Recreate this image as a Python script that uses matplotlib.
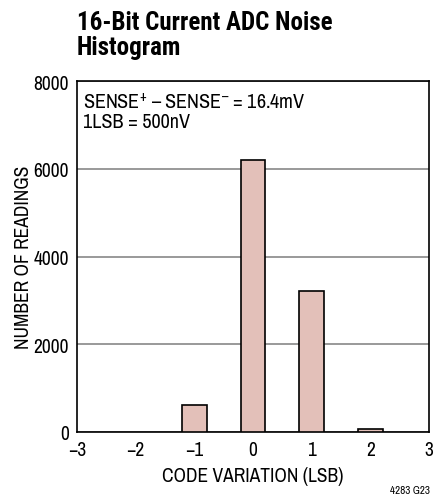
import numpy as np
import matplotlib
matplotlib.use("Agg")
import matplotlib.pyplot as plt

# histogram data
codes = [-1, 0, 1, 2]
counts = [610, 6190, 3220, 60]
xticks = [-3, -2, -1, 0, 1, 2, 3]
xticklabels = ["\u22123", "\u22122", "\u22121", "0", "1", "2", "3"]
yticks = [0, 2000, 4000, 6000, 8000]

plt.rcParams['font.family'] = ['Archivo Narrow', 'DejaVu Sans']
plt.rcParams['mathtext.fontset'] = 'custom'
plt.rcParams['mathtext.rm'] = 'Archivo Narrow'
plt.rcParams['mathtext.default'] = 'rm'

fig = plt.figure(figsize=(4.35, 5.02), dpi=100)
ax = fig.add_axes([0.177, 0.1375, 0.809, 0.699])

ax.bar(codes, counts, width=0.42, color="#e3c0b9", edgecolor="black", linewidth=1.2, zorder=3)

ax.set_xlim(-3, 3)
ax.set_ylim(0, 8000)
ax.set_xticks(xticks)
ax.set_xticklabels(xticklabels)
ax.set_yticks(yticks)
ax.tick_params(length=0, labelsize=14, pad=6)
ax.yaxis.grid(True, color="#888888", linewidth=1.2, zorder=0)
for s in ax.spines.values():
    s.set_linewidth(1.2)

ax.set_xlabel("CODE VARIATION (LSB)", fontsize=14, labelpad=5)
ax.set_ylabel("NUMBER OF READINGS", fontsize=14, labelpad=0)

ax.text(0.018, 0.97, "SENSE$^{+}$ \u2013 SENSE$^{\u2013}$ = 16.4mV\n1LSB = 500nV",
        transform=ax.transAxes, fontsize=14.5, va="top", ha="left", linespacing=1.0)

fig.text(0.177, 0.978, "16-Bit Current ADC Noise\nHistogram", fontsize=18,
         family=['Roboto Condensed', 'Fira Sans Condensed', 'Archivo Narrow'],
         fontweight="bold", va="top", ha="left", linespacing=1.05)
fig.text(0.988, 0.012, "4283 G23", fontsize=8, ha="right", va="bottom")

fig.savefig("out.png", dpi=100)
